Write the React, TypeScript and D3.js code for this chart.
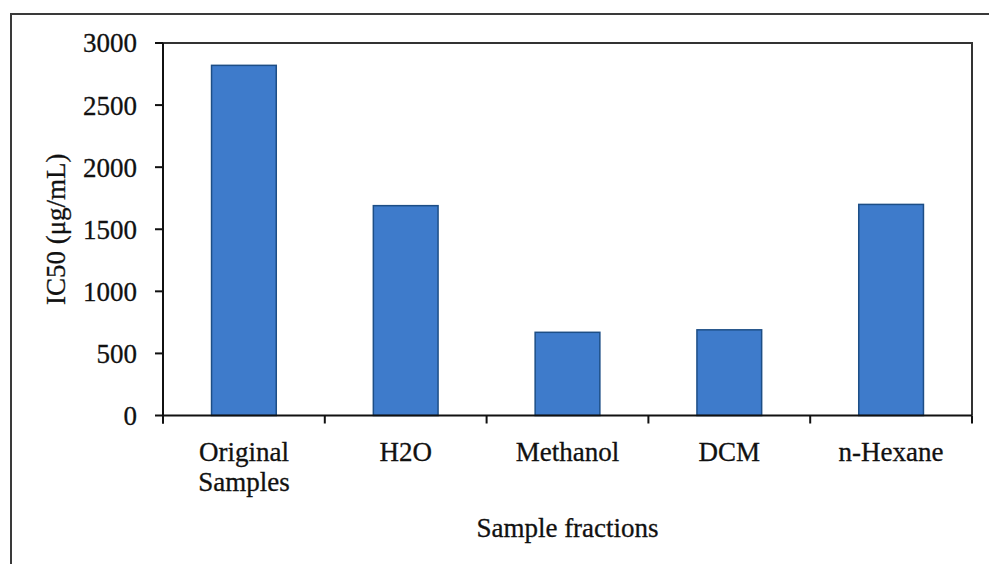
import React from "react";
import * as d3 from "d3";

const categories = ["Original Samples", "H2O", "Methanol", "DCM", "n-Hexane"];
const categoryLines = [["Original", "Samples"], ["H2O"], ["Methanol"], ["DCM"], ["n-Hexane"]];
const ic50Values = [2820, 1690, 670, 690, 1700];
const yTicks = [0, 500, 1000, 1500, 2000, 2500, 3000];

const W = 989;
const H = 564;
const plot = { left: 163, right: 972, top: 43, bottom: 415.5 };
const FONT = "'Liberation Serif', 'Times New Roman', serif";
const FS = 27;

export default function App() {
  const x = d3.scaleBand<string>().domain(categories).range([plot.left, plot.right]).padding(0);
  const y = d3.scaleLinear().domain([0, 3000]).range([plot.bottom, plot.top]);
  const barW = x.bandwidth() * 0.4;
  const step = x.step();
  const boundaries = d3.range(categories.length + 1).map((i) => plot.left + i * step);
  const textProps = { fontFamily: FONT, fontSize: FS, fill: "#111", stroke: "#111", strokeWidth: 0.3 };

  return (
    <svg width={W} height={H} style={{ position: "absolute", left: 0, top: 0, background: "#fff" }}>
      <rect x={0} y={0} width={W} height={H} fill="#fff" />
      <path d={`M11,${H + 5} L11,14 L${W + 5},14`} fill="none" stroke="#3a3a3a" strokeWidth={2} />
      <path d={`M${plot.left},${plot.top} L${plot.right},${plot.top} L${plot.right},${plot.bottom}`} fill="none" stroke="#333" strokeWidth={2} />
      {categories.map((c, i) => {
        const cx = (x(c) as number) + x.bandwidth() / 2;
        return (
          <rect
            key={c}
            x={cx - barW / 2}
            y={y(ic50Values[i])}
            width={barW}
            height={plot.bottom - y(ic50Values[i])}
            fill="#3E7BCB"
            stroke="#1D4E86"
            strokeWidth={1.5}
          />
        );
      })}
      <line x1={plot.left} y1={plot.top} x2={plot.left} y2={plot.bottom + 8} stroke="#111" strokeWidth={2} />
      {yTicks.map((t) => (
        <g key={t}>
          <line x1={plot.left - 8} x2={plot.left} y1={y(t)} y2={y(t)} stroke="#111" strokeWidth={2} />
          <text x={137} y={y(t)} dy="0.35em" textAnchor="end" {...textProps}>
            {t}
          </text>
        </g>
      ))}
      <line x1={plot.left} y1={plot.bottom} x2={plot.right} y2={plot.bottom} stroke="#111" strokeWidth={2} />
      {boundaries.map((bx, i) => (
        <line key={i} x1={bx} x2={bx} y1={plot.bottom} y2={plot.bottom + 8} stroke="#111" strokeWidth={2} />
      ))}
      {categories.map((c, i) => {
        const cx = (x(c) as number) + x.bandwidth() / 2;
        return (
          <text key={c} x={cx} y={452} textAnchor="middle" {...textProps}>
            {categoryLines[i].map((ln, j) => (
              <tspan key={j} x={cx} y={452 + j * 30} dy="0.35em">
                {ln}
              </tspan>
            ))}
          </text>
        );
      })}
      <text x={(plot.left + plot.right) / 2} y={528} dy="0.35em" textAnchor="middle" {...textProps}>
        Sample fractions
      </text>
      <text
        transform={`translate(56,${(plot.top + plot.bottom) / 2}) rotate(-90)`}
        textAnchor="middle"
        dy="0.35em"
        {...textProps}
      >
        IC50 (μg/mL)
      </text>
    </svg>
  );
}
